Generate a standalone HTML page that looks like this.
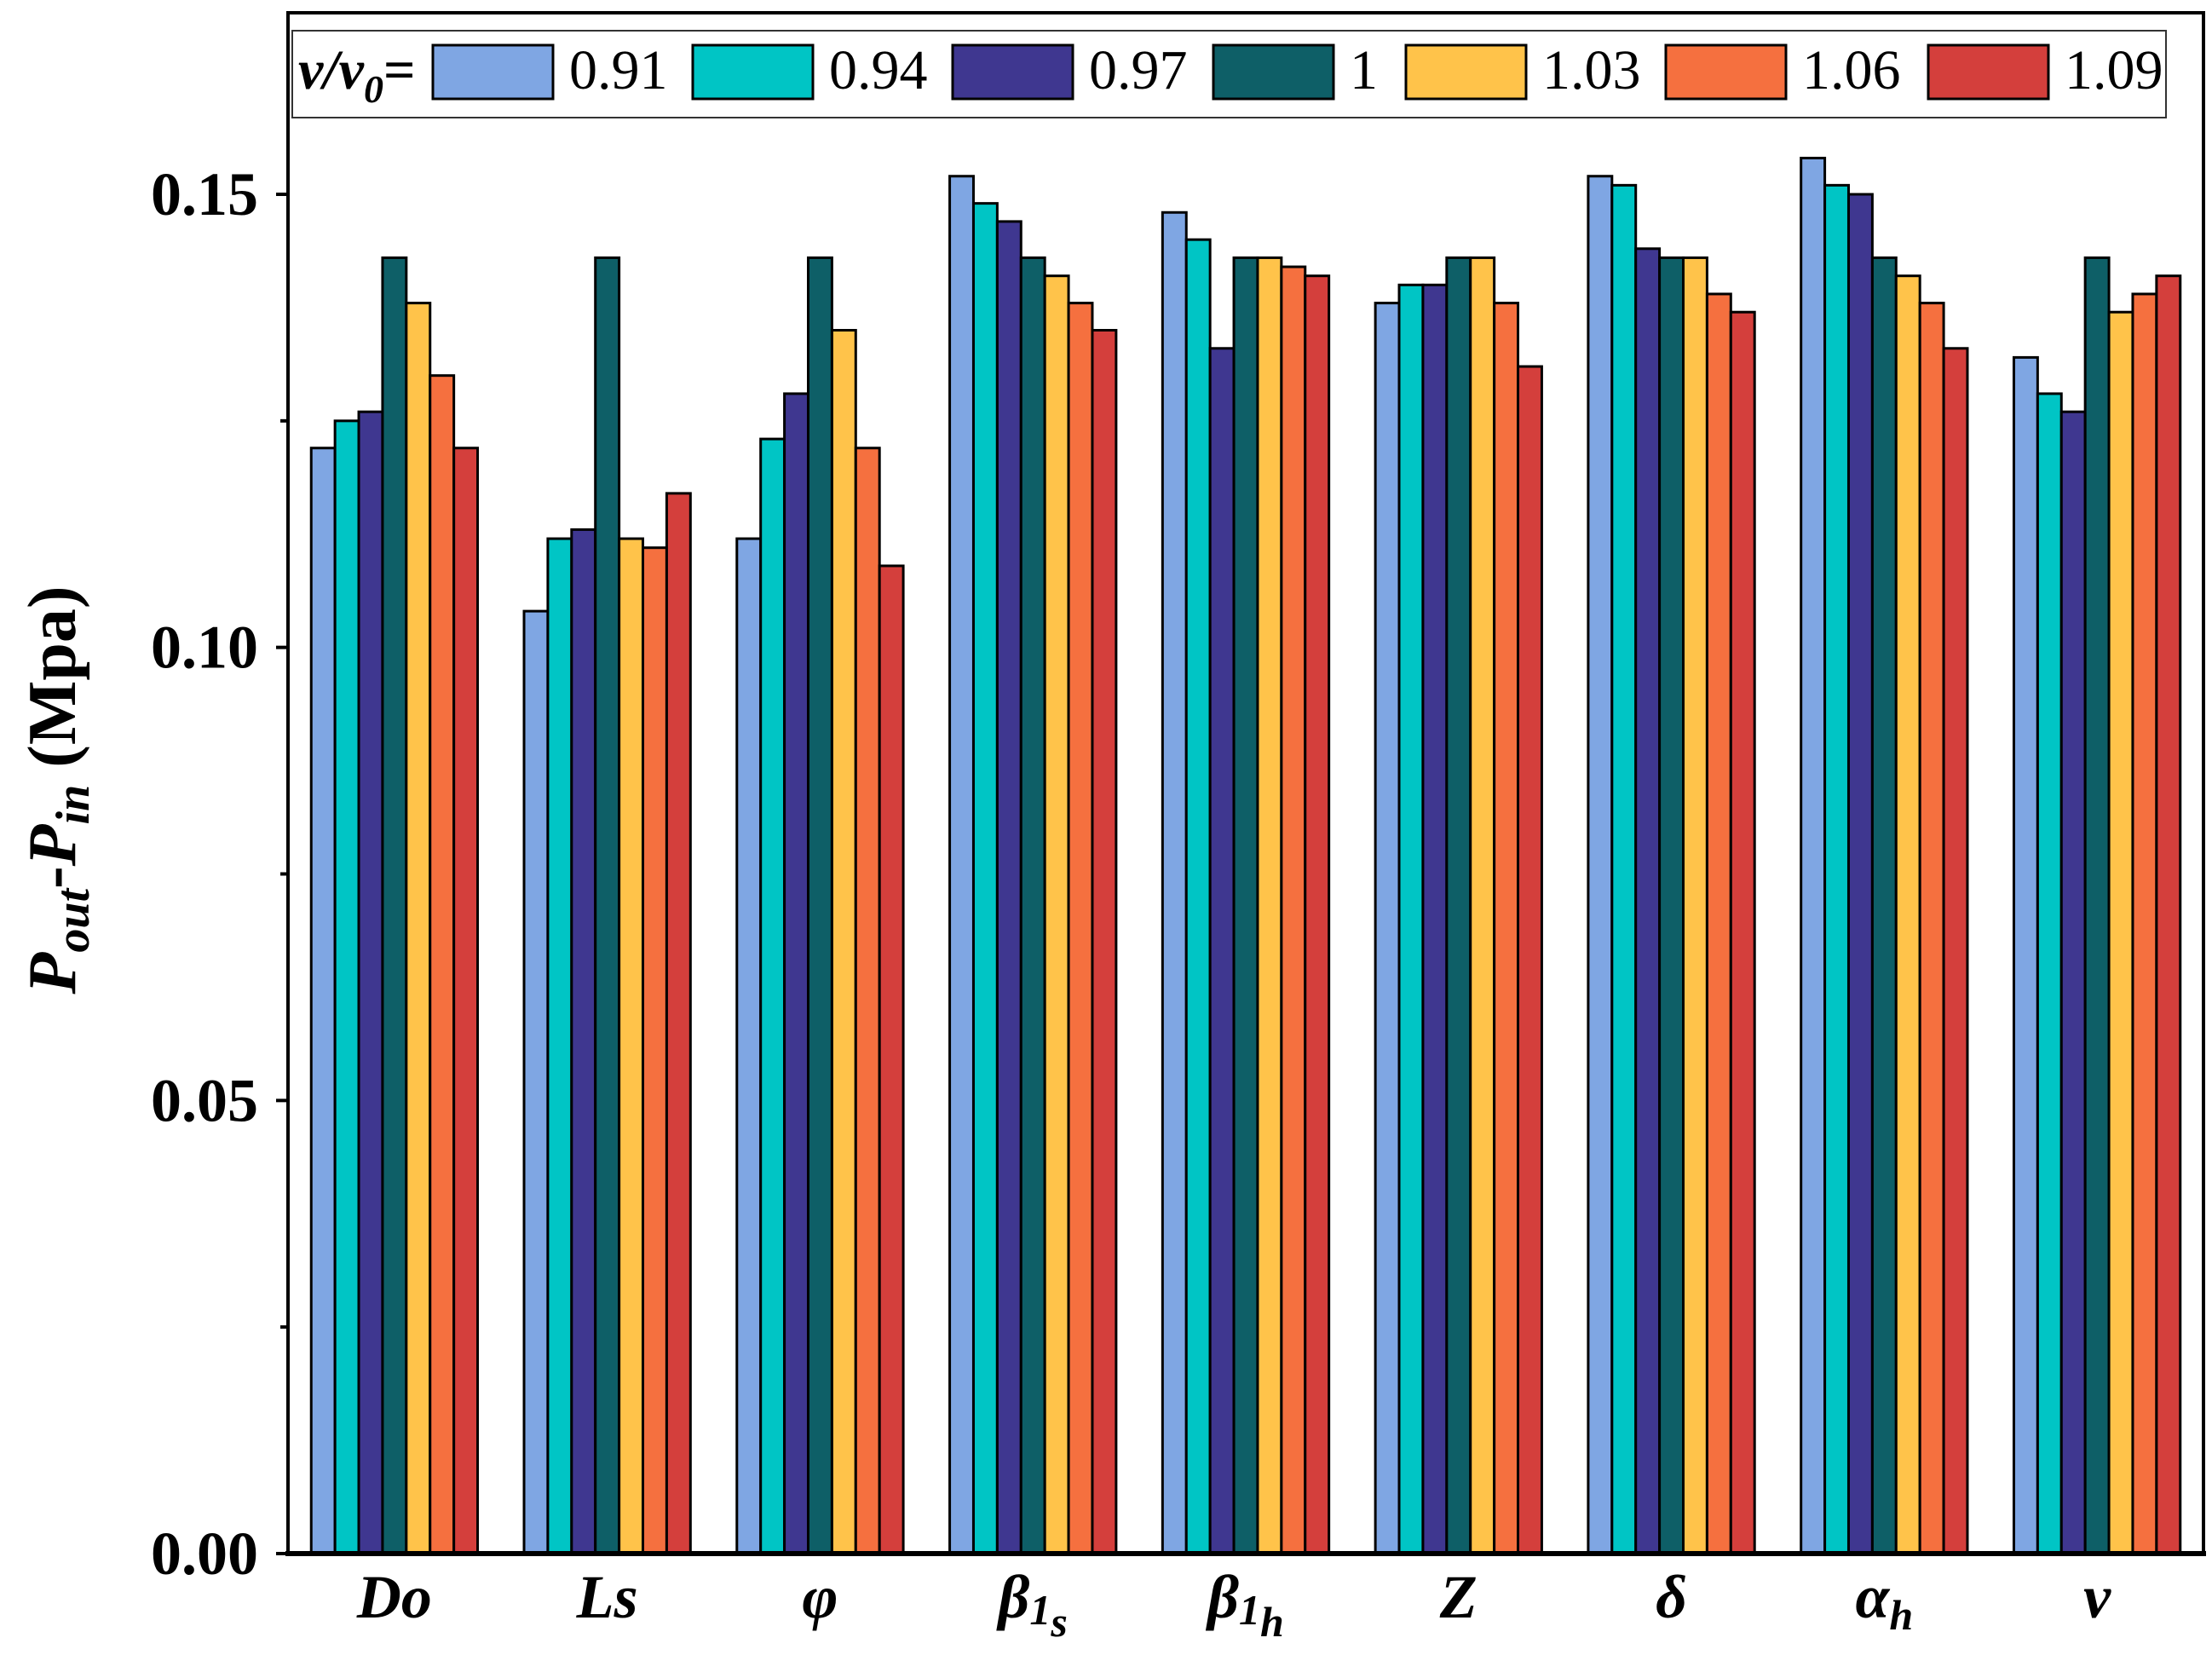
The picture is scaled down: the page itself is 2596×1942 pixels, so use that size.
<!DOCTYPE html>
<html><head><meta charset="utf-8"><style>
html,body{margin:0;padding:0;background:#fff;}
svg{display:block;font-family:"Liberation Serif","DejaVu Serif",serif;}
</style></head><body>
<svg id="chart" width="2596" height="1942" viewBox="0 0 2596 1942" xmlns="http://www.w3.org/2000/svg">
<g id="bars"></g>
<g id="axes"></g>
<g id="legend"></g>
</svg>
<script>
const categories = ["Do","Ls","φ","β1s","β1h","Z","δ","αh","v"];
const seriesNames = ["0.91","0.94","0.97","1","1.03","1.06","1.09"];
const s091 = [0.122,0.104,0.112,0.152,0.148,0.138,0.152,0.154,0.132];
const s094 = [0.125,0.112,0.123,0.149,0.145,0.140,0.151,0.151,0.128];
const s097 = [0.126,0.113,0.128,0.147,0.133,0.140,0.144,0.150,0.126];
const s100 = [0.143,0.143,0.143,0.143,0.143,0.143,0.143,0.143,0.143];
const s103 = [0.138,0.112,0.135,0.141,0.143,0.143,0.143,0.141,0.137];
const s106 = [0.130,0.111,0.122,0.138,0.142,0.138,0.139,0.138,0.139];
const s109 = [0.122,0.117,0.109,0.135,0.141,0.131,0.137,0.133,0.141];
const yTicks = [0,0.05,0.10,0.15];
const yTickLabels = ["0.00","0.05","0.10","0.15"];
const yMinorTicks = [0.025,0.075,0.125];

const series = [s091,s094,s097,s100,s103,s106,s109];
const colors = ["#7fa6e3","#00c5c5","#3f3790","#0e5f67","#ffc34a","#f5703f","#d43f3c"];
const NS = "http://www.w3.org/2000/svg";
const L=338, R=2586, T=15, B=1823;
const yMax = (B-T)/((B-228)/0.15);
function y(v){return B - v/yMax*(B-T);}
const band=(R-L)/categories.length;
function xc(i){return L+band*(i+0.5);}
const bw=27.9;
function mk(tag,attrs,parent){const e=document.createElementNS(NS,tag);for(const k in attrs)e.setAttribute(k,attrs[k]);parent.appendChild(e);return e;}

const gb=document.getElementById('bars');
series.forEach((s,si)=>{
  s.forEach((v,ci)=>{
    const x=xc(ci)-bw*3.5+si*bw;
    const r=mk('rect',{x:x,y:y(v),width:bw,height:B-y(v),fill:colors[si],stroke:'#000','stroke-width':3},gb);
    
    
  });
});

const ga=document.getElementById('axes');
const frame=mk('rect',{x:L,y:T,width:R-L,height:B-T,fill:'none',stroke:'#000','stroke-width':4},ga);


const xa=mk('line',{x1:L-3,y1:B,x2:R+3,y2:B,stroke:'#000','stroke-width':6},ga);


yTicks.forEach((t,i)=>{
  mk('line',{x1:L-14,y1:y(t),x2:L,y2:y(t),stroke:'#000','stroke-width':4},ga);
  const tx=mk('text',{x:303,y:y(t)+24,'text-anchor':'end','font-size':72,'font-weight':'bold'},ga);
  tx.textContent=yTickLabels[i];
  
  
});
yMinorTicks.forEach(t=>{mk('line',{x1:L-9,y1:y(t),x2:L,y2:y(t),stroke:'#000','stroke-width':4},ga);});

const labHTML=[
 'Do','Ls','φ',
 'β<tspan font-size="50" dy="8">1</tspan><tspan font-size="50" dy="14">s</tspan>',
 'β<tspan font-size="50" dy="8">1</tspan><tspan font-size="50" dy="14">h</tspan>',
 'Z','δ','α<tspan font-size="50" dy="14">h</tspan>','v'];
categories.forEach((c,i)=>{
  const t=mk('text',{x:xc(i),y:1898,'text-anchor':'middle','font-size':72,'font-weight':'bold','font-style':'italic'},ga);
  t.innerHTML=labHTML[i];
  
  
});
const yt=mk('text',{transform:'translate(88,927) rotate(-90)','text-anchor':'middle','font-size':80,'font-weight':'bold'},ga);
yt.innerHTML='<tspan font-style="italic">P</tspan><tspan font-style="italic" font-size="56" dy="16">out</tspan><tspan dy="-16">-</tspan><tspan font-style="italic">P</tspan><tspan font-style="italic" font-size="56" dy="16">in</tspan><tspan dy="-16"> (Mpa)</tspan>';



const gl=document.getElementById('legend');
const lb=mk('rect',{x:343,y:36,width:2199,height:102,fill:'#fff',stroke:'#333','stroke-width':2},gl);


const lt=mk('text',{x:350,y:104,'font-size':66,'font-weight':'bold','font-style':'italic'},gl);
lt.innerHTML='v/v<tspan font-size="46" dy="16">0</tspan><tspan dy="-16" font-style="normal">=</tspan>';


const swX=[508,813,1118,1424,1650,1955,2263];
seriesNames.forEach((n,i)=>{
  const sw=mk('rect',{x:swX[i],y:53,width:141,height:63,fill:colors[i],stroke:'#000','stroke-width':3},gl);
  
  
  const t=mk('text',{x:swX[i]+160,y:104,'font-size':66},gl);
  t.textContent=n;
  
  
});
</script>
</body></html>
